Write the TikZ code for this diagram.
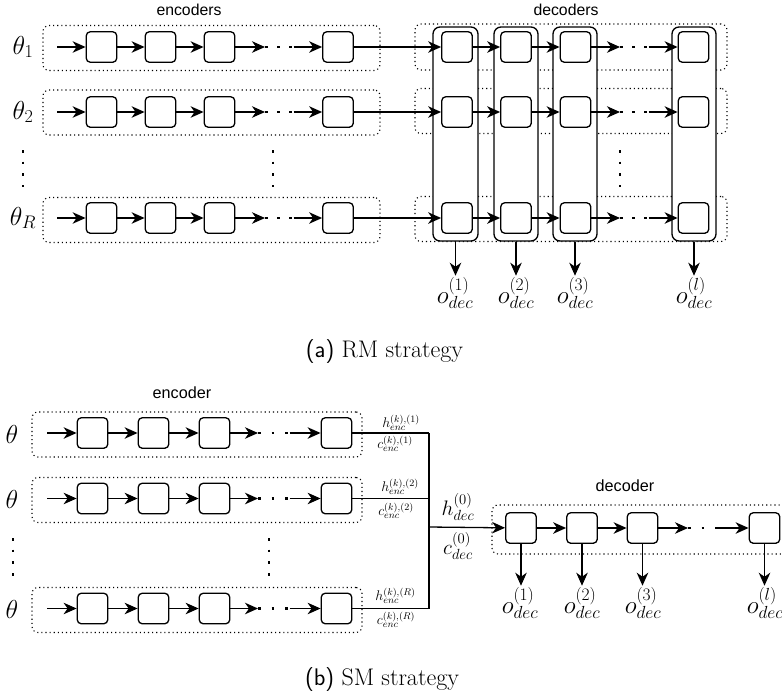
\RequirePackage{fix-cm}
\documentclass[tikz,border=0pt]{standalone}
\usepackage{fontspec}
\newfontfamily\lsans{Liberation Sans}
\usetikzlibrary{arrows.meta}
\begin{document}
\begin{tikzpicture}[x=1pt,y=-1pt,
  cell/.style={draw, line width=1.3pt, rounded corners=4pt, minimum width=30.5pt, minimum height=30.5pt, inner sep=0pt, fill=white},
  grp/.style={draw, line width=1.1pt, dash pattern=on 1.1pt off 3pt, rounded corners=6pt, inner sep=0pt},
  colbox/.style={draw, line width=1.3pt, rounded corners=7pt, fill=white, inner sep=0pt, minimum width=44pt, minimum height=214pt},
  arr/.style={line width=1.3pt, -{Stealth[length=13pt,width=11.5pt,inset=4pt]}},
  outarr/.style={arr, shorten >=1pt},
  ln/.style={line width=1.3pt},
  hdots/.style={line width=2.6pt, dash pattern=on 2.6pt off 9.6pt},
  hdotsb/.style={line width=2.6pt, dash pattern=on 2.6pt off 11pt},
  vdots/.style={line width=2.6pt, dash pattern=on 2.6pt off 9.1pt},
  grptitle/.style={font=\fontsize{15.8}{18}\lsans, inner sep=0pt},
  biglab/.style={font=\fontsize{26}{30}\selectfont, inner sep=0pt},
  outlab/.style={font=\fontsize{25}{29}\selectfont, inner sep=0pt, anchor=base},
  midlab/.style={font=\fontsize{21}{25}\selectfont, inner sep=0pt},
  smalllab/.style={font=\fontsize{14}{17}\selectfont, inner sep=0pt},
  capt/.style={font=\fontsize{24}{28}\selectfont, inner sep=0pt, anchor=base},
]
\clip (0,0) rectangle (782,694);
\useasboundingbox (0,0) rectangle (782,694);

% ================= (a) =================
\node[grptitle] (enct) at (189,10) {encoders};
\node[grptitle] (dect) at (566,10) {decoders};

% dotted group rows
\node[grp, minimum width=337pt, minimum height=45pt] (ga1) at (211.5,48) {};
\node[grp, minimum width=337pt, minimum height=45pt] (ga2) at (211.5,112.5) {};
\node[grp, minimum width=337pt, minimum height=45pt] (ga3) at (211.5,220) {};
\node[grp, minimum width=312pt, minimum height=46pt] (gd1) at (571,47) {};
\node[grp, minimum width=312pt, minimum height=45pt] (gd2) at (571,111) {};
\node[grp, minimum width=312pt, minimum height=45pt] (gd3) at (571,219) {};

% decoder columns
\node[colbox, minimum width=45pt] (c1) at (455.5,134) {};
\node[colbox] (c2) at (516,134) {};
\node[colbox] (c3) at (575,134) {};
\node[colbox] (c4) at (694,134) {};

% theta labels
\node[biglab] (t1) at (23,47) {$\theta_1$};
\node[biglab] (t2) at (23,112) {$\theta_2$};
\node[biglab] (t3) at (23,218) {$\theta_R$};

\foreach \r/\y in {1/47,2/112,3/218}{
  \node[cell] (a\r e1) at (101.5,\y) {};
  \node[cell] (a\r e2) at (160.5,\y) {};
  \node[cell] (a\r e3) at (219.5,\y) {};
  \node[cell] (a\r e4) at (338,\y) {};
  \node[cell] (a\r d1) at (457,\y) {};
  \node[cell] (a\r d2) at (516,\y) {};
  \node[cell] (a\r d3) at (575.5,\y) {};
  \node[cell] (a\r d4) at (693.5,\y) {};
  \coordinate (a\r in) at (57,\y);
  \coordinate (a\r ea) at (265,\y);
  \coordinate (a\r eb) at (293.5,\y);
  \coordinate (a\r da) at (620,\y);
  \coordinate (a\r db) at (648.5,\y);
  \draw[arr] (a\r in) -- (a\r e1);
  \draw[arr] (a\r e1) -- (a\r e2);
  \draw[arr] (a\r e2) -- (a\r e3);
  \draw[arr] (a\r e3) -- (a\r ea);
  \draw[hdots] (a\r ea) -- (a\r eb);
  \draw[arr] (a\r eb) -- (a\r e4);
  \draw[arr] (a\r e4) -- (a\r d1);
  \draw[arr] (a\r d1) -- (a\r d2);
  \draw[arr] (a\r d2) -- (a\r d3);
  \draw[arr] (a\r d3) -- (a\r da);
  \draw[hdots] (a\r da) -- (a\r db);
  \draw[arr] (a\r db) -- (a\r d4);
}

% vertical dots
\draw[vdots] (23,150) -- (23,187);
\draw[vdots] (273,150) -- (273,187);
\draw[vdots] (620,150) -- (620,187);

% outputs
\node[outlab] (o1) at (455,303) {$o^{(1)}_{dec}$};
\node[outlab] (o2) at (516,303) {$o^{(2)}_{dec}$};
\node[outlab] (o3) at (575,303) {$o^{(3)}_{dec}$};
\node[outlab] (o4) at (694,303) {$o^{(l)}_{dec}$};
\draw[outarr] (c1.south) -- (c1.south |- o1.north);
\draw[outarr] (c2.south) -- (c2.south |- o2.north);
\draw[outarr] (c3.south) -- (c3.south |- o3.north);
\draw[outarr] (c4.south) -- (c4.south |- o4.north);

\node[capt] (capa) at (384.5,357) {{\sffamily (a)} RM strategy};

% ================= (b) =================
\node[grptitle, font=\fontsize{16.2}{18}\lsans] (enct2) at (182,393) {encoder};
\node[grptitle, font=\fontsize{16.2}{18}\lsans] (dect2) at (625,486) {decoder};

\node[grp, minimum width=330pt, minimum height=45pt] (gb1) at (197,434.5) {};
\node[grp, minimum width=330pt, minimum height=45pt] (gb2) at (197,500) {};
\node[grp, minimum width=330pt, minimum height=45pt] (gb3) at (197,610) {};
\node[grp, minimum width=310pt, minimum height=49pt] (gbd) at (647,529.5) {};

\node[biglab] (tb1) at (12,434) {$\theta$};
\node[biglab] (tb2) at (12,499) {$\theta$};
\node[biglab] (tb3) at (12,609) {$\theta$};

\coordinate (mj) at (429,527);
\foreach \r/\y in {1/433,2/498.5,3/608.5}{
  \node[cell] (b\r e1) at (92.5,\y) {};
  \node[cell] (b\r e2) at (153.5,\y) {};
  \node[cell] (b\r e3) at (214.5,\y) {};
  \node[cell] (b\r e4) at (336.5,\y) {};
  \coordinate (b\r in) at (47,\y);
  \coordinate (b\r ea) at (258,\y);
  \coordinate (b\r eb) at (289.5,\y);
  \coordinate (b\r m) at (429,\y);
  \draw[arr] (b\r in) -- (b\r e1);
  \draw[arr] (b\r e1) -- (b\r e2);
  \draw[arr] (b\r e2) -- (b\r e3);
  \draw[arr] (b\r e3) -- (b\r ea);
  \draw[hdotsb] (b\r ea) -- (b\r eb);
  \draw[arr] (b\r eb) -- (b\r e4);
  \draw[ln] (b\r e4) -- (b\r m);
}
\draw[ln] (b1m) -- (b3m);

\node[smalllab] (h1) at (401,423) {$h^{(k),(1)}_{enc}$};
\node[smalllab] (k1) at (395,444) {$c^{(k),(1)}_{enc}$};
\node[smalllab] (h2) at (400,487) {$h^{(k),(2)}_{enc}$};
\node[smalllab] (k2) at (396,511) {$c^{(k),(2)}_{enc}$};
\node[smalllab] (h3) at (395.5,596) {$h^{(k),(R)}_{enc}$};
\node[smalllab] (k3) at (396,620) {$c^{(k),(R)}_{enc}$};

\node[midlab] (hd) at (458,507) {$h^{(0)}_{dec}$};
\node[midlab] (cd) at (458,546) {$c^{(0)}_{dec}$};

\node[cell] (bd1) at (521,528) {};
\node[cell] (bd2) at (582,528) {};
\node[cell] (bd3) at (642.5,528) {};
\node[cell] (bd4) at (764.5,528) {};
\coordinate (bda) at (688,528);
\coordinate (bdb) at (717.5,528);
\draw[arr] (mj) -- (bd1);
\draw[arr] (bd1) -- (bd2);
\draw[arr] (bd2) -- (bd3);
\draw[arr] (bd3) -- (bda);
\draw[hdots, dash pattern=on 2.6pt off 11pt] (bda) -- (bdb);
\draw[arr] (bdb) -- (bd4);

\draw[vdots] (13,538) -- (13,577);
\draw[vdots] (269,538) -- (269,577);

\node[outlab] (ob1) at (520,613) {$o^{(1)}_{dec}$};
\node[outlab] (ob2) at (582,613) {$o^{(2)}_{dec}$};
\node[outlab] (ob3) at (643,613) {$o^{(3)}_{dec}$};
\node[outlab] (ob4) at (765,613) {$o^{(l)}_{dec}$};
\draw[outarr] (bd1.south) -- (bd1.south |- ob1.north);
\draw[outarr] (bd2.south) -- (bd2.south |- ob2.north);
\draw[outarr] (bd3.south) -- (bd3.south |- ob3.north);
\draw[outarr] (bd4.south) -- (bd4.south |- ob4.north);

\node[capt] (capb) at (382,685) {{\sffamily (b)} SM strategy};
\end{tikzpicture}
\end{document}
